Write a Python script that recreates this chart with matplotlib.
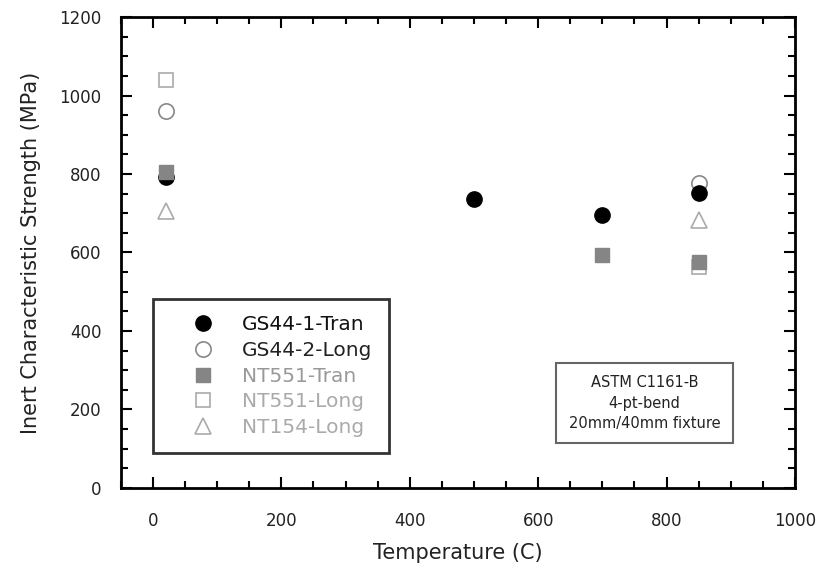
import matplotlib
matplotlib.use("Agg")
import matplotlib.pyplot as plt
from matplotlib.ticker import MultipleLocator

plt.rcParams['font.family'] = ['DejaVu Sans']

# data
gs44_tran_t = [20, 500, 700, 850]
gs44_tran_s = [793, 736, 695, 751]
gs44_long_t = [20, 850]
gs44_long_s = [960, 777]
nt551_tran_t = [20, 700, 850]
nt551_tran_s = [805, 593, 577]
nt551_long_t = [20, 850]
nt551_long_s = [1040, 563]
nt154_long_t = [20, 850]
nt154_long_s = [705, 683]

fig = plt.figure(figsize=(8.17, 5.68), dpi=100)
ax = fig.add_axes([0.148, 0.141, 0.825, 0.829])

ms = 10
h1, = ax.plot(nt551_long_t, nt551_long_s, 's', ms=ms, mfc='none', mec='#aaaaaa', mew=1.2,
              label='NT551-Long', zorder=2)
h2, = ax.plot(nt154_long_t, nt154_long_s, '^', ms=ms + 1, mfc='none', mec='#aaaaaa', mew=1.2,
              label='NT154-Long', zorder=2)
h3, = ax.plot(gs44_long_t, gs44_long_s, 'o', ms=ms + 1, mfc='none', mec='#888888', mew=1.2,
              label='GS44-2-Long', zorder=2)
h4, = ax.plot(gs44_tran_t, gs44_tran_s, 'o', ms=ms + 1, mfc='black', mec='black',
              label='GS44-1-Tran', zorder=3)
h5, = ax.plot(nt551_tran_t, nt551_tran_s, 's', ms=ms, mfc='#858585', mec='#858585',
              label='NT551-Tran', zorder=4)

ax.set_xlim(-50, 1000)
ax.set_ylim(0, 1200)
ax.xaxis.set_major_locator(MultipleLocator(200))
ax.xaxis.set_minor_locator(MultipleLocator(50))
ax.yaxis.set_major_locator(MultipleLocator(200))
ax.yaxis.set_minor_locator(MultipleLocator(50))
ax.tick_params(which='both', direction='in', top=True, right=True, width=1.5,
               labelsize=12, labelcolor='#222222')
ax.tick_params(axis='x', pad=17)
ax.tick_params(axis='y', pad=14)
ax.tick_params(which='major', length=8)
ax.tick_params(which='minor', length=5)
for sp in ax.spines.values():
    sp.set_linewidth(2)

ax.set_xlabel('Temperature (C)', fontsize=15, color='#222222', labelpad=10)
ax.set_ylabel('Inert Characteristic Strength (MPa)', fontsize=15, color='#222222', labelpad=13)

leg = ax.legend(handles=[h4, h3, h5, h1, h2], loc='lower left',
                bbox_to_anchor=(0.047, 0.074), borderaxespad=0, fontsize=14.5,
                frameon=True, fancybox=False, edgecolor='black', handletextpad=0.25,
                borderpad=0.8, labelspacing=0.33, handlelength=3.4)
leg.get_frame().set_linewidth(2)
for txt, c in zip(leg.get_texts(), ['#111111', '#222222', '#999999', '#aaaaaa', '#aaaaaa']):
    txt.set_color(c)

ax.text(0.777, 0.180, 'ASTM C1161-B\n4-pt-bend\n20mm/40mm fixture', transform=ax.transAxes,
        ha='center', va='center', fontsize=10.5, color='#222222', linespacing=1.45,
        bbox=dict(boxstyle='square,pad=0.85', fc='white', ec='#666666', lw=1.5))

fig.savefig('out.png', dpi=100)
